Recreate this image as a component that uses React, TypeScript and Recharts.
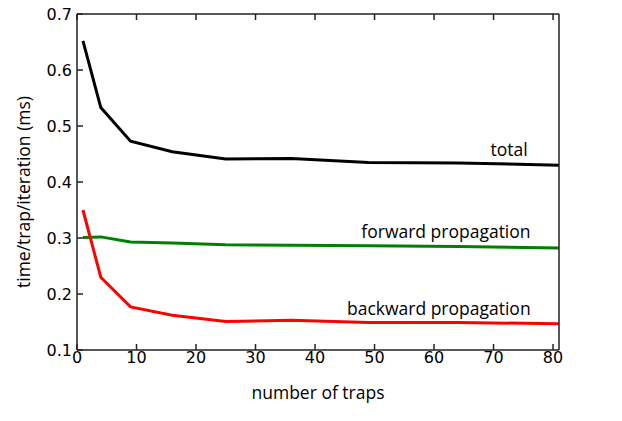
import React from "react";
import { LineChart, Line, XAxis, YAxis, ReferenceDot } from "recharts";

const traps = [1, 4, 9, 16, 25, 36, 49, 64, 81];
const total = [0.652, 0.533, 0.473, 0.454, 0.441, 0.442, 0.435, 0.434, 0.43];
const forward = [0.301, 0.302, 0.293, 0.291, 0.288, 0.287, 0.286, 0.285, 0.282];
const backward = [0.35, 0.23, 0.177, 0.162, 0.151, 0.153, 0.149, 0.149, 0.147];

const xTicks = [0, 10, 20, 30, 40, 50, 60, 70, 80];
const yTicks = [0.1, 0.2, 0.3, 0.4, 0.5, 0.6, 0.7];

const data = traps.map((t, i) => ({
  traps: t,
  total: total[i],
  forward: forward[i],
  backward: backward[i],
}));

const AXIS = "#222";
const tickFont = { fontFamily: "DejaVu Sans", fontSize: 16, fill: "#000" };
const labelFont = { fontFamily: "Open Sans", fontSize: 17.5, fill: "#000" };
const noTick = () => <g />;

export default function App() {
  return (
    <div>
      <style>{"body{margin:0}"}</style>
      <LineChart
        width={622}
        height={421}
        data={data}
        margin={{ top: 13, right: 62, left: 0, bottom: 0 }}
      >
        <XAxis
          dataKey="traps"
          type="number"
          domain={[0, 81]}
          ticks={xTicks}
          height={71}
          tickSize={-6}
          tickMargin={8}
          stroke={AXIS}
          strokeWidth={1.5}
          tick={tickFont}
          label={{ value: "number of traps", position: "center", dy: 7, style: labelFont }}
        />
        <XAxis
          xAxisId="top"
          orientation="top"
          dataKey="traps"
          type="number"
          domain={[0, 81]}
          ticks={xTicks}
          height={1}
          tickSize={-6}
          stroke={AXIS}
          strokeWidth={1.5}
          tick={noTick}
        />
        <YAxis
          type="number"
          domain={[0.1, 0.7]}
          ticks={yTicks}
          width={77}
          tickSize={-6}
          tickMargin={11}
          stroke={AXIS}
          strokeWidth={1.5}
          tick={tickFont}
          tickFormatter={(v: number) => v.toFixed(1)}
          label={{ value: "time/trap/iteration (ms)", angle: -90, position: "center", dx: -15, dy: 10, style: labelFont }}
        />
        <YAxis
          yAxisId="right"
          orientation="right"
          type="number"
          domain={[0.1, 0.7]}
          ticks={yTicks}
          width={1}
          tickSize={-6}
          stroke={AXIS}
          strokeWidth={1.5}
          tick={noTick}
        />
        <Line dataKey="total" stroke="#000" strokeWidth={3} dot={false} isAnimationActive={false} />
        <Line dataKey="forward" stroke="#008000" strokeWidth={3} dot={false} isAnimationActive={false} />
        <Line dataKey="backward" stroke="#ff0000" strokeWidth={3} dot={false} isAnimationActive={false} />
        <ReferenceDot x={72.6} y={0.457} r={0} ifOverflow="visible" label={{ value: "total", position: "center", style: labelFont }} />
        <ReferenceDot x={62} y={0.311} r={0} ifOverflow="visible" label={{ value: "forward propagation", position: "center", style: labelFont }} />
        <ReferenceDot x={60.8} y={0.173} r={0} ifOverflow="visible" label={{ value: "backward propagation", position: "center", style: labelFont }} />
      </LineChart>
    </div>
  );
}
